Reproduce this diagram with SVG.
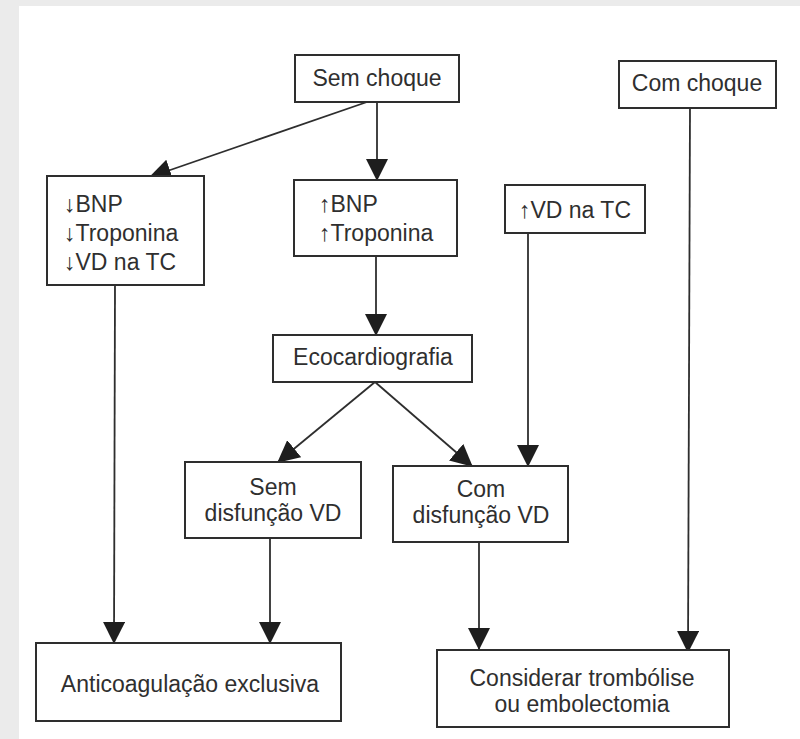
<svg xmlns="http://www.w3.org/2000/svg" width="800" height="739" viewBox="0 0 800 739">
<defs>
<style>
.box{fill:#fff;stroke:#2e2e2e;stroke-width:2}
.t{font-family:"Liberation Sans",Arial,sans-serif;font-size:23px;fill:#2f2f2f}
.c{text-anchor:middle}
.ln{stroke:#2e2e2e;stroke-width:1.8;fill:none;marker-end:url(#ah)}
</style>
<marker id="ah" markerUnits="userSpaceOnUse" markerWidth="22" markerHeight="22" refX="21" refY="11" orient="auto" viewBox="0 0 22 22">
<path d="M0,0 L22,11 L0,22 z" fill="#1e1e1e"/>
</marker>
</defs>
<rect x="0" y="0" width="800" height="739" fill="#ebebeb"/>
<rect x="19" y="6" width="781" height="733" fill="#fff"/>
<g id="connectors">
<line class="ln" x1="367" y1="102" x2="150" y2="177"/>
<line class="ln" x1="377" y1="102" x2="377" y2="180"/>
<line class="ln" x1="376" y1="256" x2="376" y2="335"/>
<line class="ln" x1="375" y1="382" x2="278" y2="462"/>
<line class="ln" x1="375" y1="382" x2="472" y2="466"/>
<line class="ln" x1="528" y1="233" x2="528" y2="466"/>
<line class="ln" x1="115" y1="285" x2="114" y2="643"/>
<line class="ln" x1="270" y1="538" x2="270" y2="643"/>
<line class="ln" x1="479" y1="542" x2="479" y2="649"/>
<line class="ln" x1="690" y1="108" x2="688" y2="652"/>
</g>
<g id="sem-choque">
<rect class="box" x="295" y="55" width="164" height="47"/>
<text class="t c" x="377" y="86">Sem choque</text>
</g>
<g id="com-choque">
<rect class="box" x="619" y="61" width="157" height="47"/>
<text class="t c" x="697" y="91">Com choque</text>
</g>
<g id="baixo-bnp">
<rect class="box" x="47" y="176" width="157" height="109"/>
<text class="t" x="64" y="212">↓BNP</text>
<text class="t" x="64" y="241">↓Troponina</text>
<text class="t" x="64" y="270">↓VD na TC</text>
</g>
<g id="alto-bnp">
<rect class="box" x="294" y="180" width="163" height="76"/>
<text class="t" x="319" y="212">↑BNP</text>
<text class="t" x="319" y="241">↑Troponina</text>
</g>
<g id="alto-vd">
<rect class="box" x="505" y="185" width="140" height="48"/>
<text class="t c" x="575" y="218">↑VD na TC</text>
</g>
<g id="ecocardiografia">
<rect class="box" x="273" y="335" width="199" height="47"/>
<text class="t c" x="373" y="365">Ecocardiografia</text>
</g>
<g id="sem-disfuncao">
<rect class="box" x="185" y="462" width="176" height="76"/>
<text class="t c" x="273" y="495">Sem</text>
<text class="t c" x="273" y="521">disfunção VD</text>
</g>
<g id="com-disfuncao">
<rect class="box" x="393" y="466" width="175" height="76"/>
<text class="t c" x="481" y="497">Com</text>
<text class="t c" x="481" y="523">disfunção VD</text>
</g>
<g id="anticoagulacao">
<rect class="box" x="36" y="643" width="305" height="78"/>
<text class="t c" x="190" y="692">Anticoagulação exclusiva</text>
</g>
<g id="considerar">
<rect class="box" x="437" y="650" width="292" height="77"/>
<text class="t c" x="582" y="686">Considerar trombólise</text>
<text class="t c" x="582" y="712">ou embolectomia</text>
</g>
</svg>
